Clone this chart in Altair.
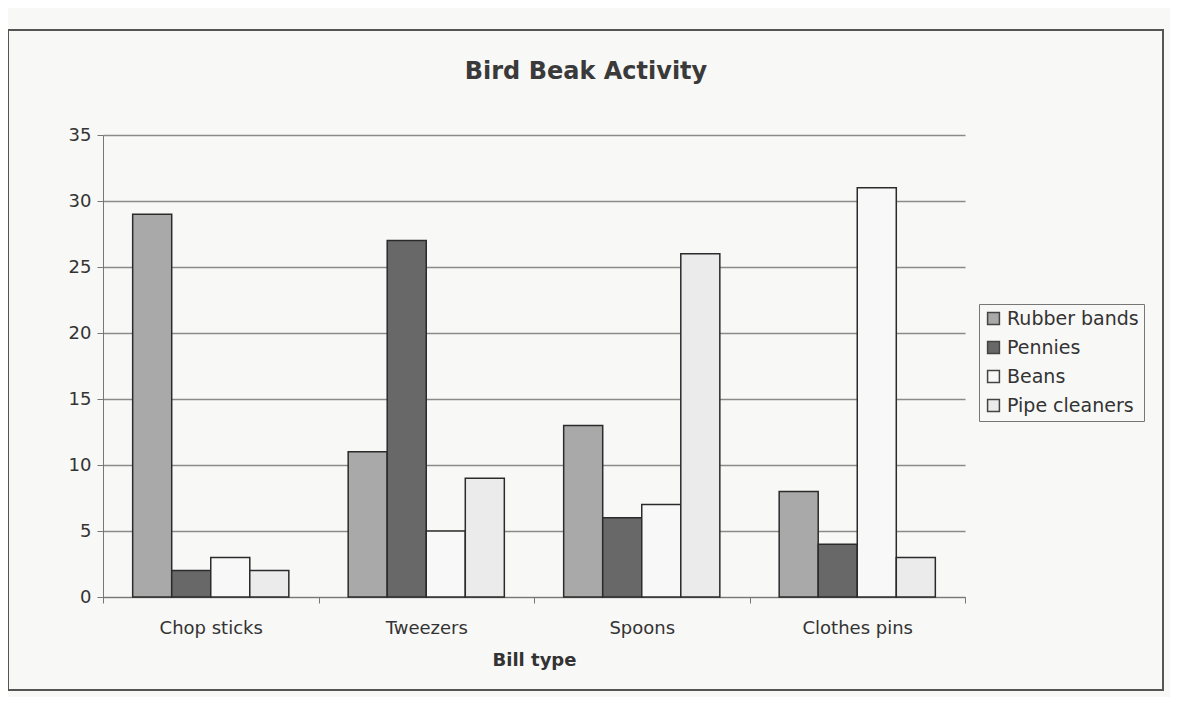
import altair as alt
import pandas as pd

categories = ["Chop sticks", "Tweezers", "Spoons", "Clothes pins"]
series = ["Rubber bands", "Pennies", "Beans", "Pipe cleaners"]
rubber_bands = [29, 11, 13, 8]
pennies = [2, 27, 6, 4]
beans = [3, 5, 7, 31]
pipe_cleaners = [2, 9, 26, 3]
colors = ["#a9a9a9", "#686868", "#f8f8f8", "#ebebeb"]
title_text = "Bird Beak Activity"

rows = []
for s, vals in zip(series, [rubber_bands, pennies, beans, pipe_cleaners]):
    for c, v in zip(categories, vals):
        rows.append({"Bill type": c, "Item": s, "Count": v})
df = pd.DataFrame(rows)

FONT = "DejaVu Sans"

bars = alt.Chart(df).mark_bar(stroke="#2b2b2b", strokeWidth=1.5).encode(
    x=alt.X("Bill type:N", sort=categories,
            scale=alt.Scale(paddingInner=0, paddingOuter=0),
            axis=alt.Axis(title="Bill type", labelAngle=0, tickBand="extent",
                          tickSize=6, tickColor="#777", domainColor="#777",
                          labelFontSize=18, labelColor="#333", labelPadding=16,
                          titleFontSize=18, titleFontWeight="bold", titleColor="#333",
                          titlePadding=14, labelFont=FONT, titleFont=FONT)),
    xOffset=alt.XOffset("Item:N", sort=series,
                        scale=alt.Scale(paddingInner=0, paddingOuter=0.76)),
    y=alt.Y("Count:Q", scale=alt.Scale(domain=[0, 35]),
            axis=alt.Axis(title=None, values=list(range(0, 36, 5)), tickSize=6,
                          tickColor="#777", domainColor="#777", gridColor="#8a8a8a",
                          gridWidth=1.5, labelFontSize=18, labelColor="#333",
                          labelPadding=6, labelFont=FONT)),
    color=alt.Color("Item:N", sort=series,
                    scale=alt.Scale(domain=series, range=colors),
                    legend=alt.Legend(title=None, orient="none", legendX=876, legendY=169,
                                      symbolType="square", symbolSize=140,
                                      symbolStrokeColor="#444", symbolStrokeWidth=1.5,
                                      labelFontSize=19, labelColor="#333", labelFont=FONT,
                                      rowPadding=9, padding=5, strokeColor="#777",
                                      fillColor="#f8f8f6")),
)

frame = alt.Chart(pd.DataFrame({"a": [0]})).mark_rect(
    fill=None, stroke="#555", strokeWidth=2
).encode(x=alt.value(-95), x2=alt.value(1060), y=alt.value(-105), y2=alt.value(555))

title = alt.Chart(pd.DataFrame({"t": [title_text]})).mark_text(
    font=FONT, fontSize=24, fontWeight="bold", color="#3a3a3a", baseline="middle"
).encode(text="t:N", x=alt.value(483), y=alt.value(-63))

chart = alt.layer(frame, bars, title).properties(
    width=862, height=462,
    autosize=alt.AutoSizeParams(type="none"),
    padding={"left": 95, "top": 127, "right": 205, "bottom": 100},
).configure(background="#f8f8f6").configure_view(stroke=None)

chart.save("out.html", embed_options={"renderer": "svg", "actions": False})
